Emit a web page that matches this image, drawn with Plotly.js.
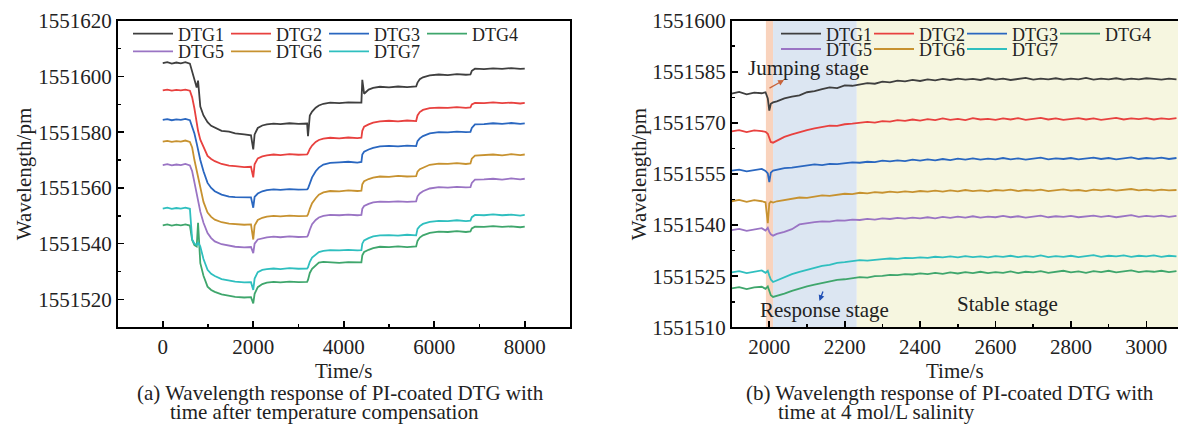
<!DOCTYPE html>
<html>
<head>
<meta charset="utf-8">
<script src="https://cdn.plot.ly/plotly-3.0.1.min.js"></script>
<style>html,body{margin:0;padding:0;background:#fff;overflow:hidden;}#chart{width:1178px;height:424px;}</style>
</head>
<body>
<div id="chart"></div>
<script>
// ---------- (a) left chart data ----------
const timeA = [0,100,200,300,400,500,600,
  650,700,750,780,830,900,990,1070,1150,1300,1465,1600,1800,1950,
  2000,2030,2100,2200,2300,2450,2600,2800,3000,3190,
  3210,3250,3300,3380,3450,3550,3700,3900,4100,4300,4390,
  4410,4450,4550,4650,4800,5000,5200,5400,5600,
  5630,5680,5750,5900,6100,6300,6500,6700,6800,
  6830,6900,7100,7300,7500,7700,7900,8000];

const a_DTG1 = [1551604.8,1551605.1,1551604.6,1551605.0,1551604.7,1551605.1,1551604.6,
  1551601.5,1551598.2,1551596.0,1551598.5,1551589.2,1551586.0,1551583.6,1551582.3,1551581.6,1551580.5,1551580.2,1551579.6,1551579.2,1551578.9,
  1551573.8,1551579.2,1551581.5,1551582.4,1551582.8,1551583.1,1551582.9,1551583.2,1551583.0,1551583.1,
  1551578.6,1551586.0,1551587.4,1551588.8,1551589.6,1551590.2,1551590.6,1551590.4,1551590.7,1551590.5,1551590.6,
  1551598.8,1551593.8,1551595.3,1551595.9,1551596.3,1551596.1,1551596.4,1551596.2,1551596.4,
  1551597.8,1551599.0,1551599.7,1551600.4,1551600.7,1551600.5,1551600.8,1551600.6,1551600.7,
  1551602.0,1551602.8,1551602.6,1551602.9,1551602.7,1551603.0,1551602.7,1551602.8];
const a_DTG2 = [1551595.0,1551595.3,1551594.9,1551595.2,1551595.0,1551595.3,1551594.9,
  1551592.5,1551588.5,1551583.0,1551580.5,1551577.3,1551574.5,1551571.5,1551570.4,1551569.6,1551568.6,1551568.0,1551567.8,1551567.5,1551567.6,
  1551563.8,1551568.5,1551570.6,1551571.3,1551571.7,1551572.0,1551571.8,1551572.1,1551571.9,1551572.0,
  1551572.5,1551574.0,1551575.2,1551576.5,1551577.2,1551577.7,1551578.0,1551577.8,1551578.1,1551577.9,1551578.0,
  1551580.5,1551582.0,1551582.8,1551583.4,1551583.9,1551584.1,1551583.9,1551584.2,1551584.0,
  1551586.0,1551587.2,1551588.0,1551588.6,1551588.8,1551588.7,1551589.0,1551588.7,1551588.9,
  1551590.0,1551590.5,1551590.4,1551590.7,1551590.4,1551590.6,1551590.3,1551590.5];
const a_DTG3 = [1551584.4,1551584.7,1551584.3,1551584.6,1551584.4,1551584.8,1551584.3,
  1551582.0,1551579.5,1551576.0,1551573.5,1551570.0,1551566.0,1551561.8,1551560.0,1551558.8,1551557.6,1551556.9,1551556.7,1551556.5,1551556.6,
  1551552.9,1551556.8,1551558.0,1551558.8,1551559.2,1551559.5,1551559.3,1551559.6,1551559.4,1551559.5,
  1551559.8,1551561.5,1551563.8,1551566.0,1551567.3,1551568.4,1551569.0,1551569.2,1551569.4,1551569.1,1551569.3,
  1551572.0,1551573.0,1551573.8,1551574.4,1551574.9,1551575.1,1551574.9,1551575.2,1551575.0,
  1551576.8,1551577.8,1551578.6,1551579.6,1551580.0,1551579.9,1551580.2,1551580.0,1551580.1,
  1551581.5,1551582.8,1551582.9,1551583.2,1551583.0,1551583.3,1551583.0,1551583.2];
const a_DTG4 = [1551546.6,1551546.9,1551546.5,1551546.8,1551546.6,1551546.9,1551546.5,
  1551541.3,1551539.5,1551539.0,1551547.5,1551533.0,1551528.5,1551524.6,1551523.4,1551522.7,1551521.8,1551521.2,1551520.9,1551520.7,1551520.8,
  1551518.6,1551522.0,1551524.4,1551525.5,1551526.0,1551526.3,1551526.1,1551526.4,1551526.2,1551526.3,
  1551527.0,1551529.5,1551531.0,1551532.3,1551533.2,1551533.5,1551533.3,1551533.1,1551533.4,1551533.2,1551533.3,
  1551535.8,1551537.0,1551537.8,1551538.4,1551538.9,1551538.8,1551539.0,1551538.8,1551539.0,
  1551541.0,1551542.2,1551543.0,1551543.9,1551544.3,1551544.2,1551544.5,1551544.2,1551544.4,
  1551545.5,1551546.1,1551546.0,1551546.3,1551546.0,1551546.2,1551545.9,1551546.1];
const a_DTG5 = [1551568.2,1551568.5,1551568.1,1551568.4,1551568.2,1551568.6,1551568.1,
  1551566.0,1551562.0,1551557.5,1551555.0,1551551.5,1551547.5,1551543.8,1551542.0,1551540.8,1551539.8,1551539.2,1551538.9,1551538.7,1551538.8,
  1551536.6,1551540.0,1551541.5,1551542.0,1551542.3,1551542.5,1551542.3,1551542.6,1551542.4,1551542.5,
  1551543.0,1551545.0,1551547.0,1551548.5,1551549.4,1551550.0,1551550.3,1551550.2,1551550.4,1551550.2,1551550.3,
  1551552.5,1551553.5,1551554.3,1551554.8,1551555.1,1551555.0,1551555.2,1551555.0,1551555.2,
  1551557.0,1551558.0,1551558.8,1551559.8,1551560.3,1551560.1,1551560.4,1551560.2,1551560.3,
  1551561.8,1551563.0,1551563.1,1551563.3,1551563.0,1551563.4,1551563.1,1551563.3];
const a_DTG6 = [1551576.6,1551576.9,1551576.5,1551576.8,1551576.6,1551577.0,1551576.5,
  1551574.5,1551570.0,1551566.5,1551564.5,1551560.0,1551555.0,1551551.2,1551549.6,1551548.6,1551547.7,1551547.2,1551547.0,1551546.8,1551546.9,
  1551541.5,1551546.5,1551548.5,1551549.3,1551549.7,1551550.0,1551549.8,1551550.1,1551549.9,1551550.0,
  1551550.5,1551552.5,1551554.5,1551556.3,1551557.6,1551558.4,1551558.9,1551558.8,1551559.1,1551558.9,1551559.0,
  1551561.3,1551562.4,1551563.2,1551563.7,1551564.1,1551564.0,1551564.3,1551564.1,1551564.2,
  1551565.8,1551566.7,1551567.3,1551568.3,1551568.7,1551568.6,1551568.9,1551568.6,1551568.8,
  1551570.5,1551571.6,1551571.8,1551572.0,1551571.7,1551572.1,1551571.8,1551572.0];
const a_DTG7 = [1551552.6,1551552.9,1551552.5,1551552.8,1551552.6,1551552.9,1551552.5,
  1551541.5,1551540.0,1551539.5,1551540.5,1551539.0,1551534.5,1551530.6,1551529.2,1551528.4,1551527.3,1551526.7,1551526.4,1551526.1,1551526.2,
  1551523.4,1551527.5,1551529.8,1551530.6,1551530.9,1551531.1,1551530.9,1551531.2,1551531.0,1551531.1,
  1551531.5,1551533.5,1551535.0,1551536.2,1551537.0,1551537.4,1551537.7,1551537.6,1551537.8,1551537.6,1551537.7,
  1551540.0,1551541.2,1551542.0,1551542.6,1551543.0,1551543.1,1551542.9,1551543.2,1551543.0,
  1551545.3,1551546.3,1551547.1,1551547.8,1551548.2,1551548.1,1551548.4,1551548.1,1551548.3,
  1551549.5,1551550.3,1551550.2,1551550.5,1551550.2,1551550.4,1551550.1,1551550.3];

// ---------- (b) right chart data ----------
const timeB = [1900,1920,1940,1960,1980,1990,1996,2000,2004,2010,
  2020,2040,2060,2080,2100,2120,2140,2160,2180,2200,
  2220,2240,2260,2280,2300,2320,2340,2360,2380,2400,
  2420,2440,2460,2480,2500,2520,2540,2560,2580,2600,
  2620,2640,2660,2680,2700,2720,2740,2760,2780,2800,
  2820,2840,2860,2880,2900,2920,2940,2960,2980,3000,
  3020,3040,3060,3080];

const b_DTG1 = [1551578.6,1551579.1,1551578.4,1551578.9,1551578.7,1551579.0,1551577.2,1551573.6,1551575.6,1551576.0,
  1551576.3,1551577.2,1551577.7,1551578.1,1551579.0,1551579.3,1551579.9,1551580.4,1551580.2,1551581.0,
  1551580.9,1551581.4,1551581.7,1551581.5,1551582.1,1551581.9,1551582.4,1551582.2,1551582.6,1551582.3,
  1551582.8,1551582.5,1551582.9,1551582.6,1551583.0,1551582.7,1551582.9,1551582.6,1551583.1,1551582.7,
  1551583.0,1551582.6,1551582.9,1551583.2,1551582.7,1551583.0,1551582.8,1551583.1,1551582.7,1551583.0,
  1551582.8,1551583.2,1551582.7,1551583.0,1551582.8,1551583.1,1551582.7,1551583.0,1551582.8,1551583.1,
  1551582.9,1551582.7,1551583.0,1551582.8];
const b_DTG2 = [1551567.5,1551567.9,1551567.3,1551567.8,1551567.6,1551567.4,1551566.8,1551565.6,1551564.4,1551564.2,
  1551564.8,1551565.9,1551566.6,1551567.3,1551567.9,1551568.4,1551568.9,1551569.2,1551569.1,1551569.6,
  1551569.8,1551570.0,1551570.3,1551570.1,1551570.5,1551570.4,1551570.8,1551570.6,1551571.0,1551570.7,
  1551571.1,1551570.8,1551571.3,1551570.9,1551571.2,1551570.8,1551571.4,1551571.0,1551571.2,1551570.9,
  1551571.3,1551571.0,1551571.4,1551570.9,1551571.2,1551571.5,1551571.0,1551571.3,1551570.9,1551571.2,
  1551571.4,1551571.0,1551571.3,1551570.9,1551571.2,1551571.5,1551571.0,1551571.3,1551571.1,1551571.4,
  1551571.0,1551571.3,1551571.1,1551571.4];
const b_DTG3 = [1551556.0,1551556.3,1551555.8,1551556.2,1551556.5,1551555.9,1551555.2,1551552.6,1551555.4,1551556.0,
  1551556.3,1551556.7,1551556.9,1551557.2,1551557.5,1551557.8,1551557.6,1551558.0,1551557.9,1551558.2,
  1551558.4,1551558.3,1551558.6,1551558.5,1551558.9,1551558.7,1551559.0,1551558.8,1551559.2,1551558.9,
  1551559.3,1551559.0,1551559.4,1551559.1,1551559.5,1551559.2,1551559.6,1551559.2,1551559.5,1551559.3,
  1551559.7,1551559.3,1551559.6,1551559.2,1551559.5,1551559.8,1551559.3,1551559.6,1551559.4,1551559.7,
  1551559.3,1551559.6,1551559.8,1551559.4,1551559.7,1551559.3,1551559.6,1551559.9,1551559.4,1551559.7,
  1551559.5,1551559.8,1551559.4,1551559.7];
const b_DTG4 = [1551521.4,1551521.8,1551521.2,1551521.7,1551521.9,1551521.3,1551522.0,1551520.6,1551519.4,1551518.9,
  1551519.2,1551519.9,1551520.7,1551521.4,1551522.0,1551522.5,1551523.0,1551523.3,1551523.9,1551524.1,
  1551524.4,1551524.7,1551524.6,1551525.0,1551525.1,1551525.4,1551525.3,1551525.6,1551525.5,1551525.8,
  1551525.6,1551526.0,1551525.7,1551526.1,1551525.8,1551526.2,1551525.9,1551526.3,1551525.9,1551526.2,
  1551526.0,1551526.4,1551525.9,1551526.3,1551526.1,1551526.5,1551526.0,1551526.3,1551526.6,1551526.1,
  1551526.4,1551526.0,1551526.5,1551526.2,1551526.6,1551526.1,1551526.4,1551526.7,1551526.2,1551526.5,
  1551526.3,1551526.6,1551526.2,1551526.5];
const b_DTG5 = [1551538.5,1551538.9,1551538.3,1551538.7,1551539.1,1551538.4,1551539.2,1551538.0,1551537.3,1551536.9,
  1551537.4,1551538.0,1551538.8,1551540.2,1551540.6,1551540.9,1551541.1,1551541.0,1551541.4,1551541.3,
  1551541.6,1551541.5,1551541.8,1551541.6,1551542.0,1551541.8,1551542.1,1551541.9,1551542.2,1551542.0,
  1551542.3,1551542.0,1551542.4,1551542.1,1551542.5,1551542.2,1551542.6,1551542.2,1551542.5,1551542.3,
  1551542.7,1551542.3,1551542.6,1551542.2,1551542.5,1551542.8,1551542.3,1551542.6,1551542.4,1551542.7,
  1551542.3,1551542.6,1551542.8,1551542.4,1551542.7,1551542.3,1551542.6,1551542.9,1551542.4,1551542.7,
  1551542.5,1551542.8,1551542.4,1551542.7];
const b_DTG6 = [1551547.0,1551547.4,1551546.8,1551547.3,1551547.0,1551546.7,1551540.6,1551546.4,1551546.9,1551546.6,
  1551547.0,1551547.4,1551547.8,1551548.1,1551548.0,1551548.4,1551548.7,1551548.6,1551549.0,1551549.2,
  1551549.1,1551549.5,1551549.3,1551549.7,1551549.5,1551549.8,1551549.6,1551549.9,1551549.7,1551550.0,
  1551549.8,1551550.1,1551549.8,1551550.2,1551549.9,1551550.3,1551550.0,1551550.2,1551549.9,1551550.3,
  1551550.1,1551550.4,1551550.0,1551550.3,1551550.1,1551550.4,1551550.0,1551550.3,1551550.5,1551550.1,
  1551550.3,1551550.0,1551550.4,1551550.2,1551550.5,1551550.1,1551550.3,1551550.6,1551550.2,1551550.4,
  1551550.1,1551550.4,1551550.2,1551550.3];
const b_DTG7 = [1551526.1,1551526.5,1551525.9,1551526.4,1551526.7,1551526.0,1551526.6,1551525.2,1551524.0,1551523.3,
  1551523.8,1551524.6,1551525.6,1551526.3,1551526.9,1551527.5,1551528.0,1551528.3,1551528.9,1551529.1,
  1551529.3,1551529.7,1551529.6,1551529.9,1551530.0,1551530.2,1551530.1,1551530.4,1551530.3,1551530.5,
  1551530.4,1551530.7,1551530.5,1551530.8,1551530.5,1551530.9,1551530.6,1551530.8,1551530.5,1551530.9,
  1551530.7,1551531.0,1551530.6,1551530.9,1551530.7,1551531.1,1551530.6,1551530.9,1551530.7,1551531.0,
  1551530.6,1551530.9,1551531.2,1551530.7,1551531.0,1551530.8,1551531.1,1551530.7,1551531.0,1551530.8,
  1551531.1,1551530.7,1551531.0,1551530.8];

// stage boundaries (s) for panel (b)
const stageBounds = [1991, 2010, 2232, 3084];

const names = ['DTG1','DTG2','DTG3','DTG4','DTG5','DTG6','DTG7'];
const colors = ['#3f3f3f','#e8413f','#2a67c0','#3fa66c','#9a74c4','#c79230','#2fbfbf'];
const seriesA = [a_DTG1,a_DTG2,a_DTG3,a_DTG4,a_DTG5,a_DTG6,a_DTG7];
const seriesB = [b_DTG1,b_DTG2,b_DTG3,b_DTG4,b_DTG5,b_DTG6,b_DTG7];

const FONT = 'Liberation Serif, Times New Roman, serif';
const W = 1178, H = 424;
const px = v => v / W;
const py = v => 1 - v / H;

// last entry of each legend row gets extra room so its label is not clipped
const lastInRow = n => n === 'DTG4' || n === 'DTG7';

const traces = [];
names.forEach((n, i) => {
  const t = {x: timeA, y: seriesA[i], name: n, type: 'scatter', mode: 'lines',
    line: {color: colors[i], width: 1.8}, xaxis: 'x', yaxis: 'y',
    legend: i < 4 ? 'legend' : 'legend2'};
  if (lastInRow(n)) t.legendwidth = 62;
  traces.push(t);
});
names.forEach((n, i) => {
  const t = {x: timeB, y: seriesB[i], name: n, type: 'scatter', mode: 'lines',
    line: {color: colors[i], width: 1.8}, xaxis: 'x2', yaxis: 'y2',
    legend: i < 4 ? 'legend3' : 'legend4'};
  if (lastInRow(n)) t.legendwidth = 62;
  traces.push(t);
});

const axisCommon = {
  showline: true, linecolor: '#000', linewidth: 1.6, mirror: true,
  ticks: 'inside', ticklen: 6, tickwidth: 1.6, tickcolor: '#000',
  showgrid: false, zeroline: false, automargin: false,
  tickfont: {family: FONT, size: 21, color: '#222'},
  fixedrange: true
};

const legendCommon = {
  orientation: 'h', bgcolor: 'rgba(0,0,0,0)', borderwidth: 0,
  font: {family: FONT, size: 18, color: '#222'},
  xanchor: 'left', yanchor: 'middle', itemwidth: 40, traceorder: 'normal'
};

const layout = {
  width: W, height: H, autosize: false,
  margin: {l: 0, r: 0, t: 0, b: 0, pad: 0, autoexpand: false},
  paper_bgcolor: '#fff', plot_bgcolor: 'rgba(0,0,0,0)',
  font: {family: FONT, color: '#222'},
  showlegend: true,
  xaxis: Object.assign({}, axisCommon, {
    domain: [px(117.5), px(570)], range: [-1000, 9000], anchor: 'y',
    tick0: 0, dtick: 2000,
    minor: {dtick: 1000, ticks: 'inside', ticklen: 3, tickwidth: 1.6, tickcolor: '#000'},
    title: {text: 'Time/s', font: {family: FONT, size: 21, color: '#222'}, standoff: 0}
  }),
  yaxis: Object.assign({}, axisCommon, {
    domain: [py(327.3), py(20.7)], range: [1551510, 1551620], anchor: 'x',
    tick0: 0, dtick: 20, tickformat: 'd',
    minor: {dtick: 10, ticks: 'inside', ticklen: 3, tickwidth: 1.6, tickcolor: '#000'},
    title: {text: 'Wavelength/pm', font: {family: FONT, size: 21, color: '#222'}, standoff: 1}
  }),
  xaxis2: Object.assign({}, axisCommon, {
    domain: [px(731.6), 1], range: [1900, 3084], anchor: 'y2',
    tick0: 0, dtick: 200,
    minor: {dtick: 100, ticks: 'inside', ticklen: 3, tickwidth: 1.6, tickcolor: '#000'},
    title: {text: 'Time/s', font: {family: FONT, size: 21, color: '#222'}, standoff: 0}
  }),
  yaxis2: Object.assign({}, axisCommon, {
    domain: [py(327.3), py(20.7)], range: [1551510, 1551600], anchor: 'x2', mirror: false,
    tick0: 0, dtick: 15, tickformat: 'd',
    minor: {dtick: 7.5, ticks: 'inside', ticklen: 3, tickwidth: 1.6, tickcolor: '#000'},
    title: {text: 'Wavelength/pm', font: {family: FONT, size: 21, color: '#222'}, standoff: 0}
  }),
  legend: Object.assign({}, legendCommon, {x: px(128), y: py(34), entrywidth: 43}),
  legend2: Object.assign({}, legendCommon, {x: px(128), y: py(51.7), entrywidth: 43}),
  legend3: Object.assign({}, legendCommon, {x: px(776), y: py(34), entrywidth: 38}),
  legend4: Object.assign({}, legendCommon, {x: px(776), y: py(49.3), entrywidth: 38}),
  shapes: [
    {type: 'rect', xref: 'x2', yref: 'y2 domain', x0: stageBounds[0], x1: stageBounds[1], y0: 0, y1: 1,
     fillcolor: '#f9d3bd', line: {width: 0}, layer: 'below'},
    {type: 'rect', xref: 'x2', yref: 'y2 domain', x0: stageBounds[1], x1: stageBounds[2], y0: 0, y1: 1,
     fillcolor: '#dce6f2', line: {width: 0}, layer: 'below'},
    {type: 'rect', xref: 'x2', yref: 'y2 domain', x0: stageBounds[2], x1: stageBounds[3], y0: 0, y1: 1,
     fillcolor: '#f6f6e0', line: {width: 0}, layer: 'below'}
  ],
  annotations: [
    {xref: 'paper', yref: 'paper', x: px(808), y: py(68), text: 'Jumping stage', showarrow: false,
     xanchor: 'center', yanchor: 'middle', font: {family: FONT, size: 21, color: '#222'}},
    {xref: 'paper', yref: 'paper', x: px(824.5), y: py(310), text: 'Response stage', showarrow: false,
     xanchor: 'center', yanchor: 'middle', font: {family: FONT, size: 21, color: '#222'}},
    {xref: 'paper', yref: 'paper', x: px(1007), y: py(304), text: 'Stable stage', showarrow: false,
     xanchor: 'center', yanchor: 'middle', font: {family: FONT, size: 21, color: '#222'}},
    {xref: 'paper', yref: 'paper', x: px(784), y: py(80), ax: -16, ay: 9, text: '', showarrow: true,
     arrowhead: 2, arrowsize: 0.9, arrowwidth: 1.3, arrowcolor: '#c8643c'},
    {xref: 'paper', yref: 'paper', x: px(819.5), y: py(301), ax: 4, ay: -11, text: '', showarrow: true,
     arrowhead: 2, arrowsize: 0.9, arrowwidth: 1.3, arrowcolor: '#1f4fb5'},
    {xref: 'paper', yref: 'paper', x: px(135), y: py(393), text: '(a) Wavelength response of PI-coated DTG with',
     showarrow: false, xanchor: 'left', yanchor: 'middle', font: {family: FONT, size: 21, color: '#222'}},
    {xref: 'paper', yref: 'paper', x: px(168), y: py(412), text: 'time after temperature compensation',
     showarrow: false, xanchor: 'left', yanchor: 'middle', font: {family: FONT, size: 21, color: '#222'}},
    {xref: 'paper', yref: 'paper', x: px(744), y: py(393), text: '(b) Wavelength response of PI-coated DTG with',
     showarrow: false, xanchor: 'left', yanchor: 'middle', font: {family: FONT, size: 21, color: '#222'}},
    {xref: 'paper', yref: 'paper', x: px(776), y: py(412), text: 'time at 4 mol/L salinity',
     showarrow: false, xanchor: 'left', yanchor: 'middle', font: {family: FONT, size: 21, color: '#222'}}
  ]
};

Plotly.newPlot('chart', traces, layout, {staticPlot: true, displayModeBar: false});
</script>
</body>
</html>
